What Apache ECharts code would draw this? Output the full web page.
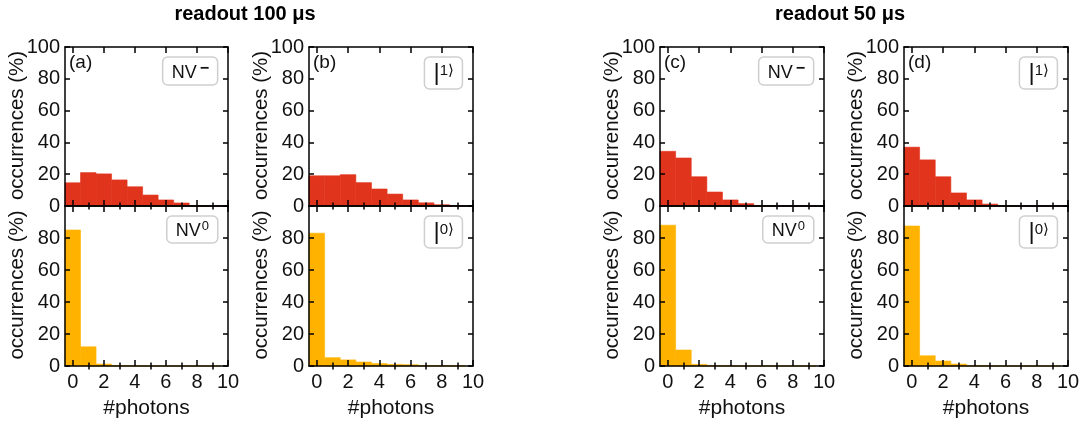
<!DOCTYPE html>
<html><head><meta charset="utf-8">
<script src="https://cdn.jsdelivr.net/npm/echarts@6/dist/echarts.min.js"></script>
<style>html,body{margin:0;padding:0;background:#fff}#c{width:1085px;height:423px}</style>
</head><body><div id="c"></div>
<script>
// ---- data ----
const bins = [0, 1, 2, 3, 4, 5, 6, 7, 8, 9];
const xTickLabels = [0, 2, 4, 6, 8, 10];
const yTickLabelsTop = [0, 20, 40, 60, 80, 100];
const yTickLabelsBottom = [0, 20, 40, 60, 80];
const a_NVminus = [14.6, 21, 20.2, 16.4, 12.1, 6.9, 3.8, 1.9, 0.3, 0.1];
const a_NVzero  = [85, 12, 1.2, 0.3, 0.1, 0, 0, 0, 0, 0];
const b_ket1    = [19, 19, 19.7, 14.7, 10.7, 7.5, 3.8, 2.0, 0.8, 0.2];
const b_ket0    = [83, 5.2, 3.8, 2.5, 1.5, 1.0, 0.8, 0.3, 0.2, 0.1];
const c_NVminus = [34.4, 30.2, 18.4, 8.8, 3.8, 1.5, 0.3, 0.1, 0, 0];
const c_NVzero  = [88, 10, 1.0, 0.2, 0.1, 0, 0, 0, 0, 0];
const d_ket1    = [37, 29, 18.4, 8.2, 3.8, 1.2, 0.3, 0.1, 0, 0];
const d_ket0    = [87.5, 6.4, 3.1, 1.2, 0.2, 0.1, 0, 0, 0, 0];
const panelLabels = ['(a)', '(b)', '(c)', '(d)'];
const groupTitles = ['readout 100 μs', 'readout 50 μs'];
const yName = 'occurrences (%)';
const xName = '#photons';

// ---- layout ----
const W = 1085;
const cols = [{left: 65, width: 163}, {left: 309, width: 164}, {left: 660, width: 164}, {left: 904, width: 164}];
const rows = [{top: 47, height: 159}, {top: 206, height: 160}];
const RED = '#e1341c', ORANGE = '#ffb300';
const FONT = '"Liberation Sans", Arial, Helvetica, sans-serif';

const panels = [
  {col: 0, row: 0, data: a_NVminus, color: RED, key: 'nvm'},
  {col: 0, row: 1, data: a_NVzero,  color: ORANGE, key: 'nv0'},
  {col: 1, row: 0, data: b_ket1,    color: RED, key: 'k1'},
  {col: 1, row: 1, data: b_ket0,    color: ORANGE, key: 'k0'},
  {col: 2, row: 0, data: c_NVminus, color: RED, key: 'nvm'},
  {col: 2, row: 1, data: c_NVzero,  color: ORANGE, key: 'nv0'},
  {col: 3, row: 0, data: d_ket1,    color: RED, key: 'k1'},
  {col: 3, row: 1, data: d_ket0,    color: ORANGE, key: 'k0'}
];

const grid = [], xAxis = [], yAxis = [], series = [], title = [], graphic = [];
const evens = [0, 2, 4, 6, 8, 10], odds = [1, 3, 5, 7, 9];
const lineStyle = {color: '#000', width: 1.5};

panels.forEach((p, i) => {
  const c = cols[p.col], r = rows[p.row];
  grid.push({left: c.left, top: r.top, width: c.width, height: r.height, containLabel: false});
  const isBottom = p.row === 1;
  const baseX = {gridIndex: i, type: 'value', min: -0.5, max: 10, z: 5,
    splitLine: {show: false}, axisLine: {show: true, onZero: false, lineStyle}};
  xAxis.push(Object.assign({}, baseX, {position: 'bottom',
    name: isBottom ? xName : '', nameLocation: 'middle', nameGap: 32,
    nameTextStyle: {fontFamily: FONT, fontSize: 21, color: '#111'},
    axisTick: {show: true, inside: true, length: 6, lineStyle, customValues: evens},
    axisLabel: {show: isBottom, customValues: xTickLabels, fontFamily: FONT, fontSize: 20, color: '#111', margin: 6}}));
  xAxis.push(Object.assign({}, baseX, {position: 'bottom', axisLine: {show: false},
    axisTick: {show: true, inside: true, length: 3.5, lineStyle, customValues: odds},
    axisLabel: {show: false}}));
  xAxis.push(Object.assign({}, baseX, {position: 'top',
    axisTick: {show: true, inside: true, length: 6, lineStyle, customValues: evens},
    axisLabel: {show: false}}));
  xAxis.push(Object.assign({}, baseX, {position: 'top', axisLine: {show: false},
    axisTick: {show: true, inside: true, length: 3.5, lineStyle, customValues: odds},
    axisLabel: {show: false}}));
  const baseY = {gridIndex: i, type: 'value', min: 0, max: 100, interval: 20, z: 5,
    splitLine: {show: false}, axisLine: {show: true, onZero: false, lineStyle},
    axisTick: {show: true, inside: true, length: 5, lineStyle}};
  yAxis.push(Object.assign({}, baseY, {position: 'left',
    axisLabel: {show: true, fontFamily: FONT, fontSize: 20, color: '#111', margin: 5,
      customValues: isBottom ? yTickLabelsBottom : yTickLabelsTop}}));
  yAxis.push(Object.assign({}, baseY, {position: 'right', axisLabel: {show: false}}));
  graphic.push({type: 'text', x: c.left - 48, y: r.top + r.height / 2 - 1, rotation: Math.PI / 2,
    style: {text: yName, font: '20.5px ' + FONT, fill: '#111', align: 'center', verticalAlign: 'middle'}});
  series.push({
    type: 'custom', xAxisIndex: 4 * i, yAxisIndex: 2 * i, z: 2,
    data: bins.map((b, k) => [b, p.data[k]]),
    renderItem: (params, api) => {
      const x = api.value(0), y = api.value(1);
      const p0 = api.coord([x - 0.5, 0]);
      const p1 = api.coord([x + 0.5, y]);
      return {type: 'rect', shape: {x: p0[0], y: p1[1], width: p1[0] - p0[0], height: p0[1] - p1[1]},
        style: {fill: p.color, stroke: p.color, lineWidth: 0.6}};
    }
  });
  const rich = {
    n: {fontFamily: FONT, fontSize: 18, fontWeight: 'normal', color: '#111'},
    sup: {fontFamily: FONT, fontSize: 13, fontWeight: 'normal', color: '#111', padding: [0, 0, 9, 1]},
    supb: {fontFamily: FONT, fontSize: 16, fontWeight: 'bold', color: '#111', padding: [0, 0, 9, 3]},
    bar: {fontFamily: FONT, fontSize: 24, fontWeight: 'normal', color: '#111'},
    k: {fontFamily: FONT, fontSize: 15, fontWeight: 'normal', color: '#111', padding: [0, 0, 5, 0]}
  };
  let txt;
  if (p.key === 'nvm') txt = '{n|NV}{supb|−}';
  else if (p.key === 'nv0') txt = '{n|NV}{sup|0}';
  else if (p.key === 'k1') txt = '{bar||}{k|1⟩}';
  else txt = '{bar||}{k|0⟩}';
  title.push({
    text: txt, right: W - (c.left + c.width) + 10, top: r.top + 10,
    padding: p.key.startsWith('k') ? [4, 9, 4, 9] : [4, 9, 3, 9],
    borderColor: '#cfcfcf', borderWidth: 1.5, borderRadius: 5, backgroundColor: '#fff',
    textStyle: {fontWeight: 'normal', rich}
  });
  if (p.row === 0) {
    title.push({text: panelLabels[p.col], left: c.left + 4, top: r.top + 6, padding: 0,
      textStyle: {fontFamily: FONT, fontSize: 19, fontWeight: 'normal', color: '#111'}});
  }
});
title.push({text: groupTitles[0], left: 245, top: 4, textAlign: 'center', padding: 0,
  textStyle: {fontFamily: FONT, fontSize: 20, fontWeight: 'bold', color: '#000'}});
title.push({text: groupTitles[1], left: 840, top: 4, textAlign: 'center', padding: 0,
  textStyle: {fontFamily: FONT, fontSize: 20, fontWeight: 'bold', color: '#000'}});

const chart = echarts.init(document.getElementById('c'), null, {renderer: 'canvas'});
chart.setOption({animation: false, backgroundColor: '#fff', title, grid, xAxis, yAxis, series, graphic});
</script></body></html>
